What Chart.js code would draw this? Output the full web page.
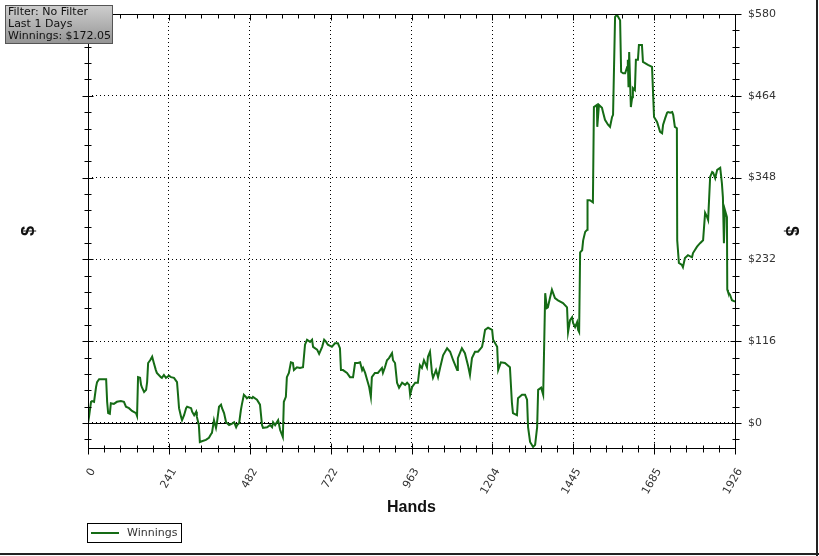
<!DOCTYPE html>
<html lang="en">
<head>
<meta charset="utf-8">
<script src="https://cdn.jsdelivr.net/npm/chart.js@4.4.1/dist/chart.umd.min.js"></script>
<style>
  html, body { margin: 0; padding: 0; background: #fff; }
  .chart-area { width: 819px; height: 556px; }
</style>
</head>
<body>
<div class="chart-area">
  <canvas id="winnings-chart"></canvas>
</div>
<script>
  // hand number / running winnings
  const hands = [0, 3, 9, 12, 18, 24, 27, 33, 54, 57, 60, 65, 68, 77, 86, 98, 107, 113, 122, 131,
    143, 146, 149, 155, 158, 161, 167, 173, 176, 179, 185, 191, 196, 202, 205, 217, 220, 226, 232, 241,
    247, 256, 265, 268, 271, 277, 280, 286, 292, 295, 307, 310, 316, 322, 324, 330, 333, 339, 351, 360,
    366, 369, 375, 381, 384, 390, 396, 399, 405, 411, 420, 429, 435, 441, 444, 450, 455, 458, 464, 470,
    473, 479, 488,
    491, 503, 512, 518, 521, 533, 542, 548, 551, 557, 566, 572, 580, 583, 589, 592, 598, 604, 610, 613,
    622, 631, 640, 646, 652, 661, 667, 670, 682, 688, 697, 703, 709, 714, 726, 735, 744, 750, 753, 759,
    771, 780, 789, 795, 804, 810, 816, 819, 825, 831, 837, 842, 845, 854, 863, 875, 878, 884, 890, 896,
    905, 908, 914, 920, 926, 935, 944, 950, 956, 959, 965, 974, 982,
    988, 994, 1000, 1009, 1012, 1018, 1024, 1027, 1036, 1042, 1048, 1057, 1069, 1078, 1087, 1099, 1101, 1113, 1122, 1131,
    1137, 1143, 1152, 1161, 1173, 1176, 1182, 1191, 1203, 1206, 1218, 1221, 1229, 1241, 1256, 1262, 1265, 1277, 1280, 1292,
    1301, 1307, 1310, 1316, 1325, 1331, 1337, 1340, 1349, 1355, 1361, 1366, 1369, 1375, 1381, 1390, 1399, 1414, 1426, 1429,
    1435, 1441, 1444, 1450, 1456, 1459, 1462, 1465, 1471, 1474, 1480, 1486, 1487, 1494, 1503, 1506, 1515, 1516, 1521, 1530,
    1533, 1539, 1548, 1554, 1560, 1563, 1569, 1575, 1578, 1584, 1587, 1593, 1599, 1605, 1607, 1609, 1611, 1616, 1620, 1622,
    1628, 1631, 1637, 1640, 1649, 1652, 1667, 1679, 1685, 1694, 1703, 1709, 1712, 1718, 1724, 1727, 1733, 1739, 1742, 1747,
    1753, 1754, 1759, 1768, 1771, 1777, 1786, 1798, 1801, 1813, 1822, 1831, 1837, 1843, 1846, 1852, 1858, 1861, 1867, 1873,
    1882, 1887, 1890, 1893, 1896, 1902, 1903, 1905, 1911, 1917, 1926];

  const winnings = [0, 8.5, 30, 31, 30, 51, 58, 62, 62, 30, 14, 13, 28, 27, 30, 31, 30, 23, 21, 17,
    14, 10, 65, 64, 54, 50, 44, 47, 58, 85, 89, 94, 85, 75, 71, 65, 64, 68, 64, 67,
    65, 64, 58, 40, 21, 9, 4, 11, 21, 23, 21, 16, 11, 16, 9, -3, -27, -26, -24, -21,
    -16, -14, 4, -7, 1, 23, 26, 21, 14, 1, -3, -1, 1, -6, -3, 0, 18, 26, 40, 37,
    35, 37, 35,
    37, 33, 26, -3, -7, -6, -3, -6, 1, -3, 4, -10, -20, 30, 37, 65, 71, 86, 85, 75,
    79, 78, 79, 111, 118, 115, 118, 108, 104, 98, 108, 118, 115, 111, 108, 113, 113, 106, 75, 75,
    71, 65, 65, 85, 85, 86, 75, 78, 71, 61, 51, 37, 65, 71, 71, 78, 71, 79, 89, 92,
    99, 89, 85, 57, 50, 57, 54, 57, 54, 40, 51, 57, 57,
    82, 78, 89, 79, 94, 101, 71, 64, 75, 65, 78, 96, 106, 101, 89, 75, 92, 106, 99, 82,
    68, 92, 101, 101, 108, 115, 132, 135, 132, 118, 108, 75, 86, 85, 79, 28, 14, 11, 35, 40,
    40, 33, -6, -27, -34, -31, -6, 47, 50, 40, 184, 163, 164, 177, 189, 177, 174, 170, 164, 129,
    146, 150, 142, 136, 143, 132, 129, 242, 245, 259, 271, 274, 316, 316, 313, 448, 451, 420, 451, 447,
    441, 430, 423, 420, 434, 437, 576, 579, 576, 571, 498, 496, 496, 505, 515, 476, 526, 448, 462, 475,
    472, 515, 515, 536, 536, 512, 508, 505, 434, 427, 413, 411, 423, 432, 440, 441, 440, 441, 437, 420,
    418, 259, 227, 224, 221, 234, 238, 235, 241, 250, 255, 259, 298, 292, 288, 349, 356, 355, 347, 359,
    362, 340, 320, 255, 302, 292, 189, 186, 182, 174, 172.05];

  const xTickLabels = [0, 241, 482, 722, 963, 1204, 1445, 1685, 1926];
  const yTickLabels = [0, 116, 232, 348, 464, 580];
  const infoLines = ['Filter: No Filter', 'Last 1 Days'];

  const yMin = -35.5;
  const lineGreen = '#156b15';
  const smallFont = '11px "DejaVu Sans"';

  // minor ticks: 5 steps between majors
  function minorValues(majors, extraBelow) {
    const out = [];
    for (let i = 0; i < majors.length - 1; i++) {
      const step = (majors[i + 1] - majors[i]) / 5;
      for (let k = 1; k < 5; k++) out.push(majors[i] + k * step);
    }
    if (extraBelow) out.push(majors[0] - (majors[1] - majors[0]) / 5);
    return out;
  }

  const framePlugin = {
    id: 'frame',
    beforeDraw(chart) {
      const ctx = chart.ctx;
      ctx.save();
      ctx.fillStyle = '#fff';
      ctx.fillRect(0, 0, chart.width, chart.height);
      ctx.restore();
    },
    beforeDatasetsDraw(chart) {
      const {ctx, chartArea: a, scales} = chart;
      const y0 = Math.round(scales.y.getPixelForValue(0)) + 0.5;
      ctx.save();
      ctx.strokeStyle = '#000';
      ctx.lineWidth = 1;
      ctx.beginPath();
      ctx.moveTo(a.left, y0);
      ctx.lineTo(a.right, y0);
      ctx.stroke();
      ctx.restore();
    },
    afterDraw(chart) {
      const {ctx, chartArea: a, scales} = chart;
      const L = Math.round(a.left) + 0.5, R = Math.round(a.right) + 0.5;
      const T = Math.round(a.top) + 0.5, B = Math.round(a.bottom) + 0.5;
      ctx.save();
      ctx.strokeStyle = '#000';
      ctx.lineWidth = 1;
      ctx.strokeRect(L, T, R - L, B - T);

      ctx.beginPath();
      // x ticks, bottom (crossing) and top (pointing down)
      const xMinor = minorValues(xTickLabels, false);
      xTickLabels.forEach(v => {
        const px = Math.round(scales.x.getPixelForValue(v)) + 0.5;
        ctx.moveTo(px, B - 5); ctx.lineTo(px, B + 6);
        ctx.moveTo(px, T); ctx.lineTo(px, T + 6);
      });
      xMinor.forEach(v => {
        const px = Math.round(scales.x.getPixelForValue(v)) + 0.5;
        ctx.moveTo(px, B - 3); ctx.lineTo(px, B + 4);
        ctx.moveTo(px, T); ctx.lineTo(px, T + 4);
      });
      // y ticks, left and right (crossing)
      const yMinor = minorValues(yTickLabels, true);
      yTickLabels.forEach(v => {
        const py = Math.round(scales.y.getPixelForValue(v)) + 0.5;
        ctx.moveTo(L - 6, py); ctx.lineTo(L + 5, py);
        ctx.moveTo(R - 5, py); ctx.lineTo(R + 6, py);
      });
      yMinor.forEach(v => {
        const py = Math.round(scales.y.getPixelForValue(v)) + 0.5;
        ctx.moveTo(L - 4, py); ctx.lineTo(L + 3, py);
        ctx.moveTo(R - 3, py); ctx.lineTo(R + 4, py);
      });
      ctx.stroke();

      // info box top left
      const g = ctx.createLinearGradient(0, 5, 0, 43);
      g.addColorStop(0, '#cfcfcf');
      g.addColorStop(1, '#959595');
      ctx.fillStyle = g;
      ctx.fillRect(5, 5, 107, 38);
      ctx.strokeStyle = '#555';
      ctx.strokeRect(5.5, 5.5, 107, 38);
      ctx.fillStyle = '#111';
      ctx.font = smallFont;
      ctx.textBaseline = 'middle';
      ctx.textAlign = 'left';
      const last = winnings[winnings.length - 1];
      infoLines.concat(['Winnings: $' + last.toFixed(2)]).forEach((t, i) => {
        ctx.fillText(t, 8, 12.5 + i * 12);
      });

      // legend
      ctx.strokeStyle = '#000';
      ctx.strokeRect(87.5, 523.5, 94, 19);
      ctx.strokeStyle = lineGreen;
      ctx.lineWidth = 2;
      ctx.beginPath();
      ctx.moveTo(91, 533); ctx.lineTo(119, 533);
      ctx.stroke();
      ctx.fillStyle = '#333';
      ctx.fillText(chart.data.datasets[0].label, 127, 533);

      // outer frame (right / bottom)
      ctx.fillStyle = '#222';
      ctx.fillRect(816, 0, 2, 556);
      ctx.fillRect(0, 553, 819, 2);
      ctx.restore();
    }
  };

  const chartData = {
    datasets: [{
      label: 'Winnings',
      data: hands.map((h, i) => ({x: h, y: winnings[i]})),
      borderColor: lineGreen,
      backgroundColor: lineGreen,
      borderWidth: 2,
      pointRadius: 0,
      tension: 0,
    }]
  };

  const tickFont = {family: 'DejaVu Sans', size: 11};
  const titleFont = {family: 'Liberation Sans', size: 16, weight: 'bold'};

  const lineConfig = {
    type: 'line',
    data: chartData,
    plugins: [framePlugin],
    options: {
      responsive: true,
      maintainAspectRatio: false,
      animation: false,
      layout: {padding: {top: 14, right: 0, bottom: 38, left: 0}},
      plugins: {
        legend: {display: false},
        tooltip: {enabled: false},
      },
      scales: {
        x: {
          type: 'linear',
          min: 0,
          max: 1926,
          afterBuildTicks: s => { s.ticks = xTickLabels.map(v => ({value: v})); },
          afterFit: s => { s.height = 70; s.paddingLeft = 0; s.paddingRight = 0; },
          ticks: {autoSkip: false, minRotation: 60, maxRotation: 60, padding: 18, labelOffset: 5,
            font: tickFont, color: '#333', callback: v => String(v)},
          grid: {color: '#000', drawTicks: false},
          border: {display: false, dash: [1, 3]},
          title: {display: true, text: 'Hands', font: titleFont, color: '#111', padding: {top: 0, bottom: 1}},
        },
        y: {
          position: 'left',
          min: yMin,
          max: 580,
          afterBuildTicks: s => { s.ticks = yTickLabels.map(v => ({value: v})); },
          afterFit: s => { s.width = 88; s.paddingTop = 0; s.paddingBottom = 0; },
          ticks: {display: false},
          grid: {color: '#000', drawTicks: false},
          border: {display: false, dash: [1, 3]},
          title: {display: true, text: '$', font: {family: 'Liberation Sans', size: 18, weight: 'bold'}, color: '#111',
            padding: {top: 18, bottom: 0}},
        },
        y2: {
          position: 'right',
          min: yMin,
          max: 580,
          afterBuildTicks: s => { s.ticks = yTickLabels.map(v => ({value: v})); },
          afterFit: s => { s.width = 84; s.paddingTop = 0; s.paddingBottom = 0; },
          ticks: {padding: 13, font: tickFont, color: '#333', callback: v => '$' + v},
          grid: {display: false, drawTicks: false},
          border: {display: false},
          title: {display: true, text: '$', font: {family: 'Liberation Sans', size: 18, weight: 'bold'}, color: '#111',
            padding: {top: 17, bottom: 0}},
        }
      }
    },
  };

  new Chart(document.getElementById('winnings-chart').getContext('2d'), lineConfig);
</script>
</body>
</html>
